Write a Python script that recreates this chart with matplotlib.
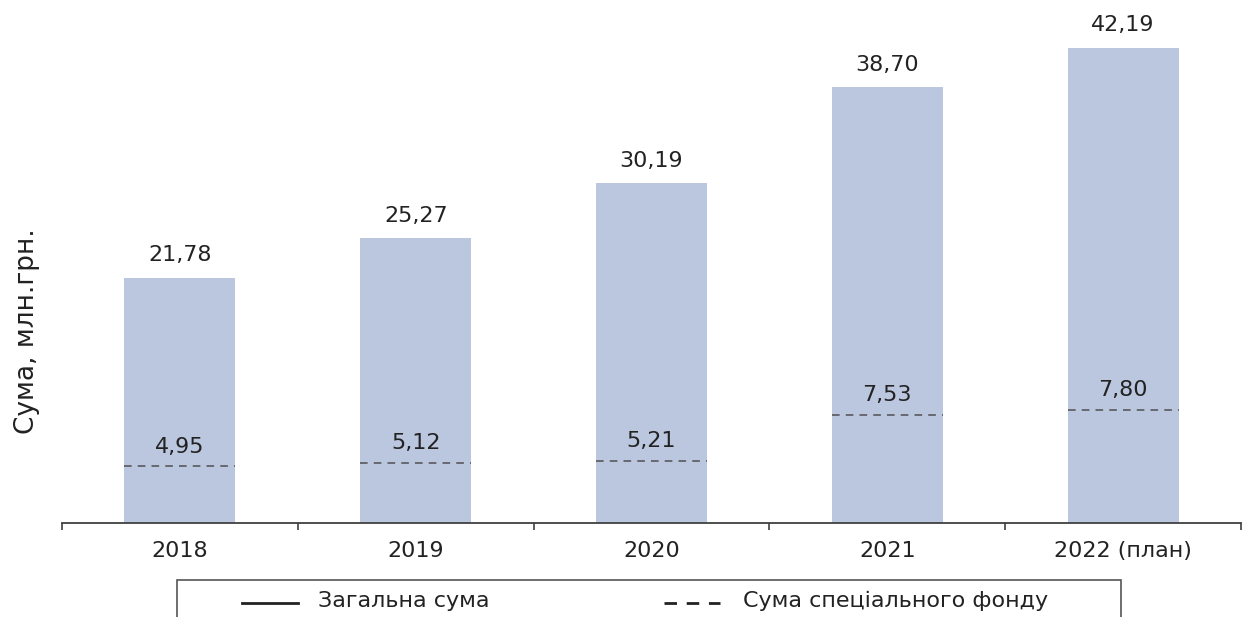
import matplotlib.pyplot as plt
from matplotlib.patches import Rectangle
from matplotlib.lines import Line2D

plt.rcParams['font.family'] = ['DejaVu Sans']

# Data
years = ['2018', '2019', '2020', '2021', '2022 (план)']
total = [21.78, 25.27, 30.19, 38.70, 42.19]
special = [4.95, 5.12, 5.21, 7.53, 7.80]

total_labels = ['21,78', '25,27', '30,19', '38,70', '42,19']
special_labels = ['4,95', '5,12', '5,21', '7,53', '7,80']

bar_color = '#bac7df'
txt_color = '#222222'
W, H = 1246, 617
fig = plt.figure(figsize=(W / 100, H / 100), dpi=100)

# axes placed in pixel terms of the reference
ax = fig.add_axes([62 / W, (H - 523) / H, 1179 / W, 523 / H])
x = list(range(len(years)))
bar_w = 0.47
ax.bar(x, total, width=bar_w, color=bar_color, zorder=1)

for i, v in enumerate(total):
    ax.annotate(total_labels[i], (i, v), xytext=(0, 9), textcoords='offset points',
                ha='center', va='bottom', fontsize=16, color=txt_color)

ax.set_xlim(-0.5, len(years) - 0.5)
ax.set_ylim(0, 46.45)
ax.set_yticks([])
for s in ['top', 'right', 'left']:
    ax.spines[s].set_visible(False)
ax.spines['bottom'].set_color('#404040')
ax.spines['bottom'].set_linewidth(1.3)

# special fund is on its own (secondary) scale in the original
ax2 = ax.twinx()
ax2.set_ylim(2.1, 28.4)
ax2.set_yticks([])
for s in ['top', 'right', 'left', 'bottom']:
    ax2.spines[s].set_visible(False)
for i, v in enumerate(special):
    ax2.hlines(v, i - bar_w / 2, i + bar_w / 2, colors='#505050',
               linestyles=(0, (5, 4)), linewidth=1.1, zorder=2)
    ax2.annotate(special_labels[i], (i, v), xytext=(0, 7), textcoords='offset points',
                 ha='center', va='bottom', fontsize=16, color=txt_color)

# labels at centres, tick marks at category boundaries
ax.set_xticks(x)
ax.set_xticklabels(years, fontsize=16, color=txt_color)
ax.tick_params(axis='x', which='major', length=0, pad=13)
ax.set_xticks([i - 0.5 for i in range(len(years) + 1)], minor=True)
ax.tick_params(axis='x', which='minor', length=5, width=1.2, color='#404040')

fig.text(27 / W, 1 - 331 / H, 'Сума, млн.грн.', rotation=90, ha='center', va='center',
         fontsize=19, color=txt_color)

# legend box (cut by the bottom edge, as in the reference)
fig.add_artist(Rectangle((177 / W, 1 - 640 / H), (1121 - 177) / W, (640 - 580) / H,
                         transform=fig.transFigure, fill=False, edgecolor='#555555', linewidth=1.2))
fig.add_artist(Line2D([242 / W, 298 / W], [1 - 603 / H] * 2, transform=fig.transFigure,
                      color=txt_color, linewidth=2))
fig.text(318 / W, 1 - 601 / H, 'Загальна сума', ha='left', va='center', fontsize=16, color=txt_color)
fig.add_artist(Line2D([664 / W, 720 / W], [1 - 603 / H] * 2, transform=fig.transFigure,
                      color=txt_color, linewidth=2, linestyle=(0, (4.5, 3.5))))
fig.text(743 / W, 1 - 601 / H, 'Сума спеціального фонду', ha='left', va='center', fontsize=16,
         color=txt_color)

fig.savefig('out.png', dpi=100)
